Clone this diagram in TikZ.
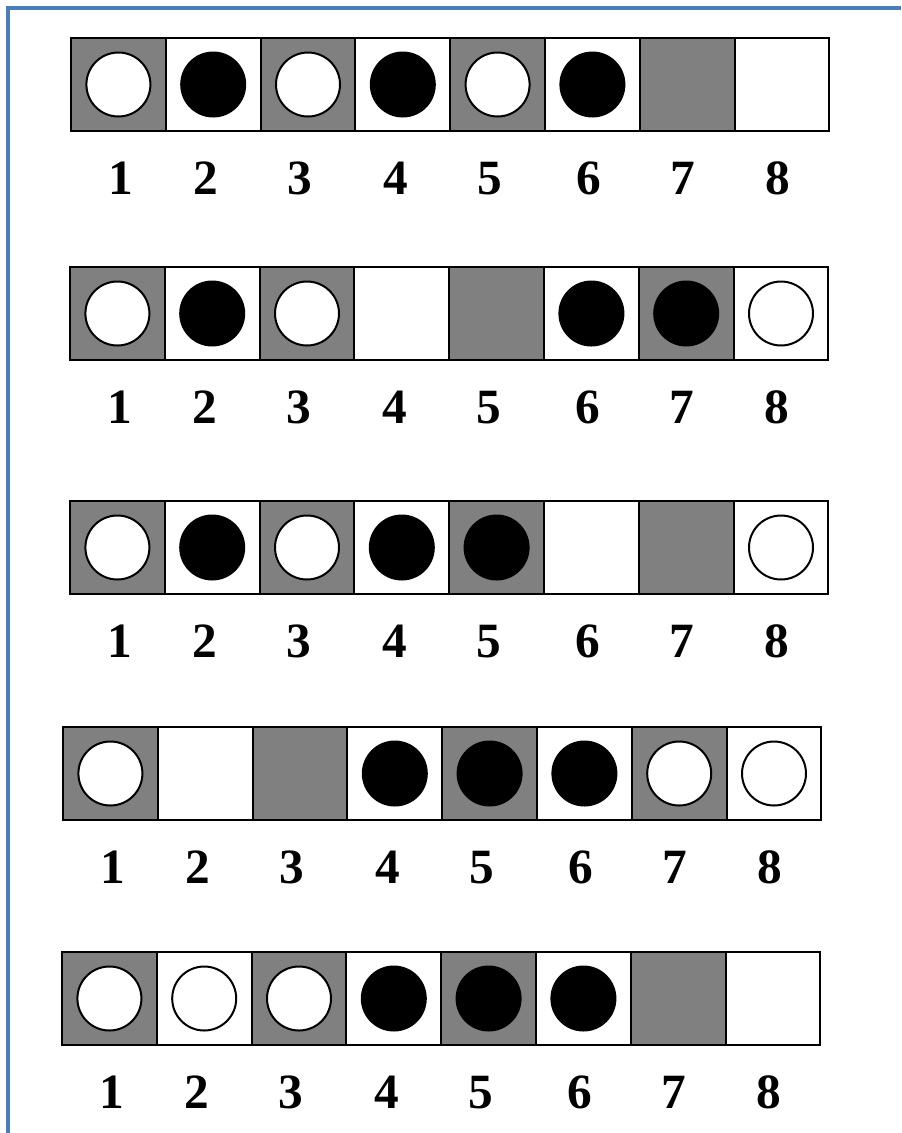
\documentclass[tikz,border=0pt]{standalone}
\usepackage{fontspec}
\setmainfont{Liberation Serif}
\usepackage{xcolor}
\usepackage{tikz}
\definecolor{frameblue}{RGB}{74,126,187}
\tikzset{
  c1/.style={rectangle, fill=gray, draw=black, line width=1.6pt, minimum width=71.1pt, minimum height=69.75pt, inner sep=0pt},
  c0/.style={c1, fill=white},
  dw/.style={circle, fill=white, draw=black, line width=1.5pt, minimum size=48pt, inner sep=0pt},
  db/.style={circle, fill=black, minimum size=49.5pt, inner sep=0pt},
  num/.style={font=\fontsize{37}{42}\selectfont\bfseries, anchor=base, inner sep=0pt},
  frm/.style={draw=frameblue, line width=2.6pt},
  board/.style={x=0.75pt, y=-0.75pt}
}

\begin{document}
\begin{tikzpicture}[board]
    \useasboundingbox (0,0) rectangle (901,1133);
    \coordinate (fb) at (8,1133);
    \coordinate (ftl) at (8,8);
    \coordinate (fr) at (901,8);
    \draw[frm] (fb) -- (ftl) -- (fr);
    % rows: number / left / top / discs
    \foreach \r/\x/\y/\pat in {1/71/38/{w,b,w,b,w,b,n,n},
                               2/70/267/{w,b,w,n,n,b,b,w},
                               3/70/501/{w,b,w,b,b,n,n,w},
                               4/63/727/{w,n,n,b,b,b,w,w},
                               5/62/952/{w,w,w,b,b,b,n,n}}{
      \foreach \d [count=\i] in \pat {
        \pgfmathtruncatemacro\p{mod(\i,2)}
        \node[c\p] (c\r-\i) at (\x+94.8*\i-47.4, \y+46.5) {};
        \if\d n\else
          \node[d\d] (d\r-\i) at (c\r-\i.center) {};
        \fi
      }
      \foreach \o [count=\i] in {50,135,229,325,419,518,612,707}
        \node[num] (n\r-\i) at (\x+\o, \y+156) {\i};
    }
\end{tikzpicture}
\end{document}
